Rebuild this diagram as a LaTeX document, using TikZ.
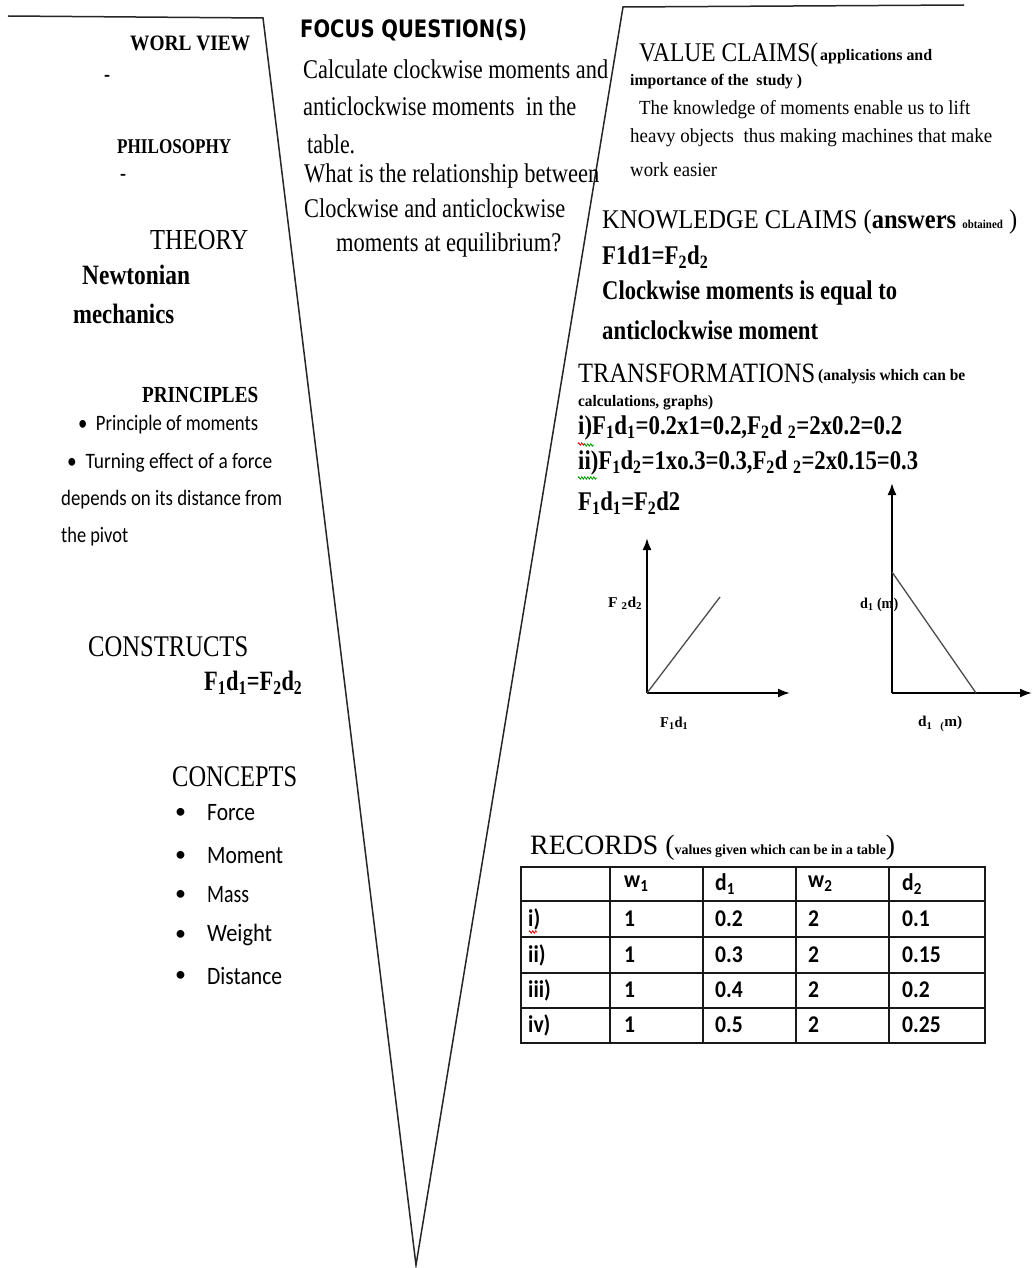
\documentclass[tikz,border=0pt]{standalone}
\usepackage{fontspec}
\usepackage{graphicx}
\usetikzlibrary{arrows.meta,decorations.pathmorphing}
\newfontfamily\tnr{Liberation Serif}
\newfontfamily\calfont{Carlito}
\newfontfamily\calnarrow[FakeStretch=0.9]{Carlito}
\newfontfamily\arb{DejaVu Sans}
\newcommand\fitt[4]{\resizebox{#1pt}{\height}{#3\fontsize{#2}{#2}\selectfont #4}}
\newcommand\subs[1]{\textsubscript{#1}}
\tikzset{
  txt/.style={inner sep=0pt, anchor=west},
  vline/.style={line width=1.5pt, black!85},
  axis/.style={line width=2pt, -{Latex[length=12pt,width=9pt]}},
  dataline/.style={line width=1.3pt, black!70},
  tbl/.style={line width=1.8pt, black!90},
  cell/.style={inner sep=0pt, anchor=west, font=\calnarrow\bfseries\fontsize{24}{24}\selectfont},
  squig/.style={line width=0.8pt, decorate, decoration={zigzag, segment length=3pt, amplitude=1.2pt}}
}
\begin{document}
\begin{tikzpicture}[x=1pt,y=-1pt]
\fill[white] (0,0) rectangle (1034,1268);
\useasboundingbox (0,0) rectangle (1034,1268);
% V frame
\coordinate (lt) at (8,16);
\coordinate (lc) at (263,18);
\coordinate (ap) at (416,1265);
\coordinate (rc) at (623,7);
\coordinate (rt) at (964,5);
\draw[vline, line join=miter] (lt) -- (lc) -- (ap) -- (rc) -- (rt);

% left side
\node[txt] (worl) at (130,43) {\fitt{120}{22}{\tnr\bfseries}{WORL VIEW}};
\node[txt] (dash1) at (104,78) {\fitt{6}{22}{\tnr\bfseries}{-}};
\node[txt] (phil) at (117,147) {\fitt{114}{21}{\tnr\bfseries}{PHILOSOPHY}};
\node[txt] (dash2) at (120,177) {\fitt{6}{22}{\tnr\bfseries}{-}};
\node[txt] (theory) at (150,240) {\fitt{98}{29}{\tnr}{THEORY}};
\node[txt] (newt) at (82,275) {\fitt{108}{28}{\tnr\bfseries}{Newtonian}};
\node[txt] (mech) at (73,314) {\fitt{101}{28}{\tnr\bfseries}{mechanics}};
\node[txt] (princ) at (142,395) {\fitt{116}{23}{\tnr\bfseries}{PRINCIPLES}};
\node[txt] (p1) at (78,425) {\fitt{180}{22}{\calfont}{\textbullet\ \ Principle of moments}};
\node[txt] (p2) at (67,463) {\fitt{205}{22}{\calfont}{\textbullet\ \ Turning effect of a force}};
\node[txt] (p3) at (61,500) {\fitt{221}{22}{\calfont}{depends on its distance from}};
\node[txt] (p4) at (61,537) {\fitt{67}{22}{\calfont}{the pivot}};
\node[txt] (constr) at (88,647) {\fitt{160}{30}{\tnr}{CONSTRUCTS}};
\node[txt] (ceq) at (204,683) {\fitt{98}{28}{\tnr\bfseries}{F\subs{1}d\subs{1}=F\subs{2}d\subs{2}}};
\node[txt] (conc) at (172,777) {\fitt{125}{30}{\tnr}{CONCEPTS}};
\foreach \t/\w/\y [count=\i] in {Force/48/813, Moment/76/856, Mass/42/895, Weight/65/935, Distance/75/976}{
  \node[txt] (cb\i) at (175,\y) {\calfont\fontsize{22}{22}\selectfont\textbullet};
  \node[txt] (ci\i) at (207,\y) {\fitt{\w}{25}{\calfont}{\t}};
}

% focus question
\node[txt] (focus) at (300,30) {\fitt{227}{24}{\arb\bfseries}{FOCUS QUESTION(S)}};
\node[txt] (f1) at (303,69) {\fitt{305}{27}{\tnr}{Calculate clockwise moments and}};
\node[txt] (f2) at (303,106) {\fitt{273}{27}{\tnr}{anticlockwise moments\ \ in the}};
\node[txt] (f3) at (307,144) {\fitt{48}{27}{\tnr}{table.}};
\node[txt] (f4) at (304,176) {\fitt{295}{27}{\tnr}{What is the relationship between}};
\node[txt] (f5) at (304,208) {\fitt{261}{27}{\tnr}{Clockwise and anticlockwise}};
\node[txt] (f6) at (336,245) {\fitt{225}{27}{\tnr}{moments at equilibrium?}};

% value claims
\node[txt] (vc) at (639,55) {\fitt{179}{27}{\tnr}{VALUE CLAIMS(}};
\node[txt] (vc2) at (820,57) {\fitt{112}{16}{\tnr\bfseries}{applications and}};
\node[txt] (vc3) at (630,82) {\fitt{172}{16}{\tnr\bfseries}{importance of the\ \ study )}};
\node[txt] (vc4) at (639,110) {\fitt{331}{20}{\tnr}{The knowledge of moments enable us to lift}};
\node[txt] (vc5) at (630,138) {\fitt{362}{20}{\tnr}{heavy objects\ \ thus making machines that make}};
\node[txt] (vc6) at (630,170) {\fitt{87}{20}{\tnr}{work easier}};

% knowledge claims
\node[txt] (kc) at (602,222) {\fitt{415}{27}{\tnr}{KNOWLEDGE CLAIMS (\textbf{answers} {\bfseries\fontsize{12}{12}\selectfont obtained} )}};
\node[txt] (kc2) at (602,257) {\fitt{106}{27}{\tnr\bfseries}{F1d1=F\subs{2}d\subs{2}}};
\node[txt] (kc3) at (602,293) {\fitt{295}{27}{\tnr\bfseries}{Clockwise moments is equal to}};
\node[txt] (kc4) at (602,330) {\fitt{216}{27}{\tnr\bfseries}{anticlockwise moment}};

% transformations
\node[txt] (tr) at (578,373) {\fitt{237}{28}{\tnr}{TRANSFORMATIONS}};
\node[txt] (tr2) at (818,377) {\fitt{147}{16}{\tnr\bfseries}{(analysis which can be}};
\node[txt] (tr3) at (578,403) {\fitt{135}{16}{\tnr\bfseries}{calculations, graphs)}};
\node[txt] (tr4) at (578,428) {\fitt{324}{27}{\tnr\bfseries}{i)F\subs{1}d\subs{1}=0.2x1=0.2,F\subs{2}d \subs{2}=2x0.2=0.2}};
\node[txt] (tr5) at (578,463) {\fitt{340}{27}{\tnr\bfseries}{ii)F\subs{1}d\subs{2}=1xo.3=0.3,F\subs{2}d \subs{2}=2x0.15=0.3}};
\node[txt] (tr6) at (578,503) {\fitt{102}{27}{\tnr\bfseries}{F\subs{1}d\subs{1}=F\subs{2}d2}};
% spelling marks
\coordinate (s1a) at (578,444); \coordinate (s1b) at (585,444);
\coordinate (s2a) at (584,445); \coordinate (s2b) at (594,445);
\coordinate (s3a) at (578,478); \coordinate (s3b) at (597,478);
\draw[squig, red] (s1a) -- (s1b);
\draw[squig, green!60!black] (s2a) -- (s2b);
\draw[squig, green!60!black] (s3a) -- (s3b);

% graph 1
\coordinate (o1) at (647,693);
\coordinate (y1) at (647,538);
\coordinate (x1) at (790,693);
\coordinate (d1) at (720,597);
\draw[axis] (o1) -- (y1);
\draw[axis] (o1) -- (x1);
\draw[dataline] (o1) -- (d1);
\node[txt] (g1y) at (608,603) {\fitt{34}{15}{\tnr\bfseries}{F \subs{2}d\subs{2}}};
\node[txt] (g1x) at (660,723) {\fitt{28}{15}{\tnr\bfseries}{F\subs{1}d\subs{1}}};

% graph 2
\coordinate (o2) at (892,693);
\coordinate (y2) at (892,483);
\coordinate (x2) at (1032,693);
\coordinate (da) at (892,572);
\coordinate (db) at (976,693);
\draw[axis] (o2) -- (y2);
\draw[axis] (o2) -- (x2);
\draw[dataline] (da) -- (db);
\node[txt] (g2y) at (860,605) {\fitt{38}{15}{\tnr\bfseries}{d\subs{1} (m)}};
\node[txt] (g2x) at (918,724) {\fitt{44}{15}{\tnr\bfseries}{d\subs{1}\ \ \subs{(}m)}};

% records
\node[txt] (rec) at (530,848) {\fitt{365}{28}{\tnr}{RECORDS ({\bfseries\fontsize{14}{14}\selectfont values given which can be in a table})}};
\draw[tbl] (521,867) rectangle (985,1043);
\foreach \x in {610,703,796,889}{\draw[tbl] (\x,867) -- (\x,1043);}
\foreach \y in {901,937,973,1008}{\draw[tbl] (521,\y) -- (985,\y);}
\node[cell] (h1) at (624,884) {w\subs{1}};
\node[cell] (h2) at (715,884) {d\subs{1}};
\node[cell] (h3) at (808,884) {w\subs{2}};
\node[cell] (h4) at (902,884) {d\subs{2}};
\foreach \r/\a/\b/\y [count=\i] in {i)/0.2/0.1/919, ii)/0.3/0.15/955, iii)/0.4/0.2/990, iv)/0.5/0.25/1025}{
  \node[cell] (r\i a) at (528,\y) {\r};
  \node[cell] (r\i b) at (624,\y) {1};
  \node[cell] (r\i c) at (715,\y) {\a};
  \node[cell] (r\i d) at (808,\y) {2};
  \node[cell] (r\i e) at (902,\y) {\b};
}
\coordinate (s4a) at (529,932); \coordinate (s4b) at (537,932);
\draw[squig, red] (s4a) -- (s4b);
\end{tikzpicture}
\end{document}
